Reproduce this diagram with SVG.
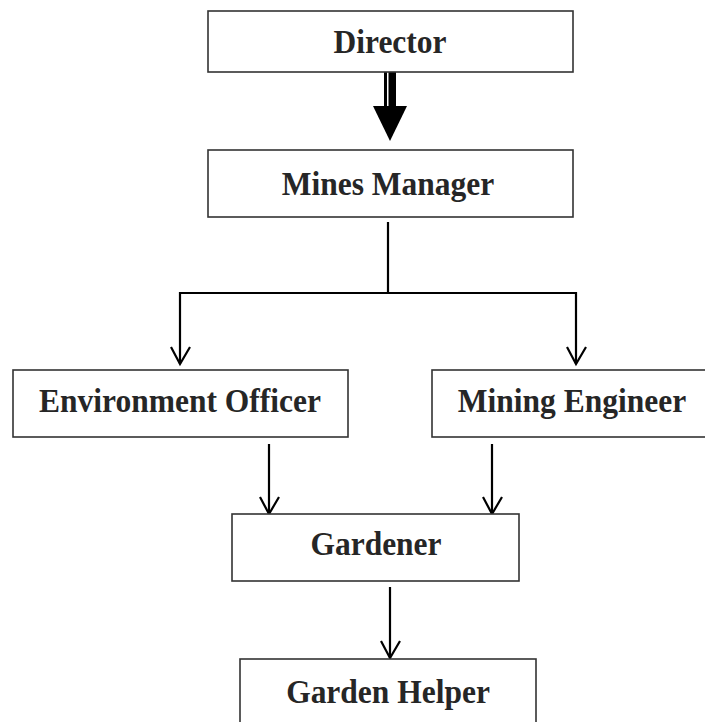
<svg xmlns="http://www.w3.org/2000/svg" width="705" height="722" viewBox="0 0 705 722">
<defs>
<style>
.box{fill:#fff;stroke:#333;stroke-width:1.6}
.lbl{font-family:"Liberation Serif","Times New Roman",serif;font-weight:bold;font-size:31.5px;fill:#262626;text-anchor:middle}
.ln{fill:none;stroke:#000;stroke-width:2.2}
.hd{fill:none;stroke:#000;stroke-width:2.2;stroke-linejoin:miter}
</style>
</defs>
<rect width="705" height="722" fill="#fff"/>
<g id="connectors">
<rect x="384" y="72" width="3" height="36" fill="#000"/>
<rect x="388.5" y="72" width="7.5" height="36" fill="#000"/>
<polygon points="373,106 407,106 390,141" fill="#000"/>
<path class="ln" d="M388,222 V293 M180,293 H576 M180,292 V364 M576,292 V364"/>
<path class="hd" d="M171,347 L180,364 L190,347 M567,347 L576,364 L586,347"/>
<path class="ln" d="M269,444 V514 M492,444 V514"/>
<path class="hd" d="M260,497 L269,514 L279,497 M483,497 L492,514 L502,497"/>
<path class="ln" d="M390,587 V658"/>
<path class="hd" d="M381,641 L390,658 L400,641"/>
</g>
<g id="director"><rect class="box" x="208" y="11" width="365" height="61"/><text class="lbl" transform="translate(390,53) scale(1,1.08)">Director</text></g>
<g id="mines-manager"><rect class="box" x="208" y="150" width="365" height="67"/><text class="lbl" transform="translate(388,195) scale(1,1.08)">Mines Manager</text></g>
<g id="environment-officer"><rect class="box" x="13" y="370" width="335" height="67"/><text class="lbl" transform="translate(180,412) scale(1,1.08)">Environment Officer</text></g>
<g id="mining-engineer"><rect class="box" x="432" y="370" width="280" height="67"/><text class="lbl" transform="translate(572,412) scale(1,1.08)">Mining Engineer</text></g>
<g id="gardener"><rect class="box" x="232" y="514" width="287" height="67"/><text class="lbl" transform="translate(376,555) scale(1,1.08)">Gardener</text></g>
<g id="garden-helper"><rect class="box" x="240" y="659" width="296" height="70"/><text class="lbl" transform="translate(388,703) scale(1,1.08)">Garden Helper</text></g>
</svg>
